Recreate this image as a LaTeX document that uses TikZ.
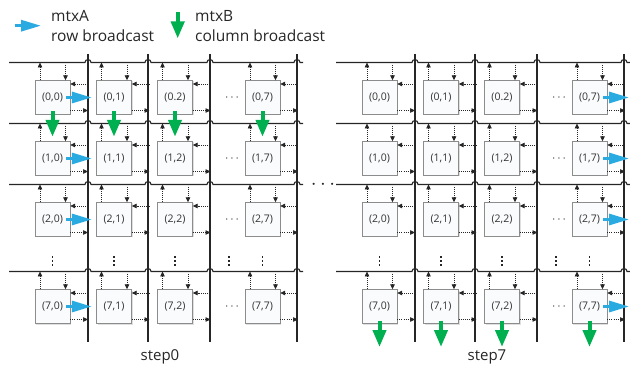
\documentclass[tikz,border=0pt]{standalone}
\usepackage{fontspec}
\setmainfont{Open Sans}
\usepackage{tikz}
\usetikzlibrary{arrows.meta,positioning,calc,shadows}
\definecolor{mtxAblue}{HTML}{29ABE2}
\definecolor{mtxBgreen}{HTML}{00B050}

\begin{document}
\begin{tikzpicture}[
 x=1pt, y=-1pt,
 bus/.style={line width=1.1pt, black!85},
 pe/.style={draw=black!45, fill={rgb,255:red,250;green,251;blue,253}, minimum width=35pt, minimum height=34pt, inner sep=0pt, text=black!80, font=\fontsize{10.5}{12}\selectfont,
  drop shadow={shadow xshift=1pt, shadow yshift=-1pt, fill=black!25, opacity=0.5}},
 link/.style={dash pattern=on 1pt off 1.1pt, line width=0.7pt, black!85, -{Triangle[length=5pt,width=4.5pt]}},
 rowcast/.style={line width=3pt, mtxAblue, -{Triangle[length=20pt,width=11pt]}},
 colcast/.style={line width=4pt, mtxBgreen, -{Triangle[length=17pt,width=13pt]}},
 legend/.style={align=left, anchor=west, inner sep=0pt, text=black!85, font=\fontsize{15.5}{20}\selectfont},
 dots/.style={inner sep=0pt, text=black!85, font=\fontsize{13}{13}\selectfont}
]
 \useasboundingbox (0,0) rectangle (630,377);

 % Legend: mtxA goes along the rows, mtxB down the columns
 \coordinate (legA-tail) at (15,25.7);
 \coordinate (legA-tip) at (41,25.7);
 \draw[rowcast] (legA-tail) -- (legA-tip);
 \node[legend] (legA) at (51,26) {mtxA\\row broadcast};
 \coordinate (legB-tail) at (177.7,12.5);
 \coordinate (legB-tip) at (177.7,38.5);
 \draw[colcast] (legB-tail) -- (legB-tip);
 \node[legend] (legB) at (195,26) {mtxB\\column broadcast};

 % Two copies of the 8x8 grid: step0 on the left, step7 shifted right
 \foreach \dx/\s in {0/0, 327/7} {
  % vertical buses, one right of each column
  \foreach \v in {88,148,210,297}
   \draw[bus] (\v+\dx,54) -- (\v+\dx,342);
  \foreach \r/\y in {0/97.5, 1/158.5, 2/219.5, 7/306.5} {
   % horizontal bus hopping over the vertical ones
   \draw[bus] (9+\dx,\y-35)
    \foreach \v in {88,148,210,297} { -- (\v+\dx-3,\y-35) arc[start angle=180, end angle=360, radius=3] }
    -- (303+\dx,\y-35);
   \foreach \c/\x in {0/52.5, 1/114, 2/175, 7/262.5} {
    \node[pe] (s\s-\r\c) at (\x+\dx,\y) {\ifnum\r\c=2 (0.2)\else(\r,\c)\fi};
    \coordinate (up) at (\x+\dx-12.5,\y-35);
    \coordinate (dn) at (\x+\dx+13,\y-35);
    \coordinate (rin) at (\x+\dx+35.5,\y-13.5);
    \coordinate (rout) at (\x+\dx+35.5,\y+13);
    \draw[link] (up |- s\s-\r\c.north) -- (up);
    \draw[link] (dn) -- (dn |- s\s-\r\c.north);
    \draw[link] (rin) -- (rin -| s\s-\r\c.east);
    \draw[link] (rout -| s\s-\r\c.east) -- (rout);
   }
   \node[dots] (hd\s-\r) at (232+\dx,\y) {$\cdots$};
  }
  % rows 3..6 left out
  \foreach \x in {52.5, 114, 175, 229, 262.5}
   \foreach \k in {-4,0,4}
    \fill[black!85] (\x+\dx-0.9,261+\k-0.9) rectangle +(1.8,1.8);
 }

 % step0: first column and first row are broadcast
 \foreach \r in {0,1,2,7}
  \draw[rowcast, shorten <=-4pt, shorten >=4.5pt] (s0-\r0) -- (s0-\r1);
 \foreach \c in {0,1,2,7}
  \draw[colcast, shorten <=-3.5pt, shorten >=4.5pt] (s0-0\c) -- (s0-1\c);

 % step7: data leaves through the last column and last row
 \foreach \r/\y in {0/97.5, 1/158.5, 2/219.5, 7/306.5} {
  \coordinate (outA-\r) at (629,\y);
  \draw[rowcast, shorten <=-4pt] (s7-\r7) -- (outA-\r);
 }
 \foreach \c/\x in {0/52.5, 1/114, 2/175, 7/262.5} {
  \coordinate (outB-\c) at (\x+327,347);
  \draw[colcast, shorten <=-3pt] (s7-7\c) -- (outB-\c);
 }

 \node[dots, font=\fontsize{20}{20}\selectfont] (gap) at (323,185) {$\cdots$};
 \node[legend, anchor=center, font=\fontsize{15}{18}\selectfont] (step0) at (160,357) {step0};
 \node[legend, anchor=center, font=\fontsize{15}{18}\selectfont] (step7) at (487,357) {step7};
\end{tikzpicture}
\end{document}
